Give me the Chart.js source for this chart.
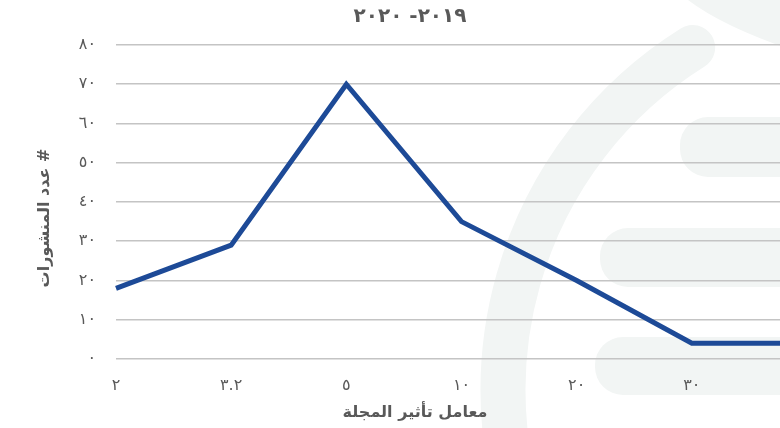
<!DOCTYPE html>
<html>
<head>
<meta charset="utf-8">
<script src="https://cdn.jsdelivr.net/npm/chart.js@4.4.1/dist/chart.umd.min.js"></script>
<style>
  html, body { margin: 0; padding: 0; background: #ffffff; overflow: hidden; width: 780px; height: 428px; }
  #wrap { position: relative; width: 820px; height: 428px; }
</style>
</head>
<body>
<div id="wrap"><canvas id="chart" width="820" height="428"></canvas></div>
<script>
// Journal impact-factor buckets (x categories)
const impactFactors = ['٢', '٣.٢', '٥', '١٠', '٢٠', '٣٠', '٤٠'];
// Number of publications per bucket
const publicationCounts = [18, 29, 70, 35, 20, 4, 4];
// Y axis tick labels, Arabic-Indic digits
const yTickLabels = ['٠', '١٠', '٢٠', '٣٠', '٤٠', '٥٠', '٦٠', '٧٠', '٨٠'];

const subtitleText = '٢٠١٩- ٢٠٢٠';
const xAxisTitle = 'معامل تأثير المجلة';
const yAxisTitle = 'عدد المنشورات #';

const FONT = '"DejaVu Sans", sans-serif';
const TEXT_GREY = '#595959';
const MARK_TINT = '#f2f5f4';

// Faint brand mark painted behind the plot
const backdrop = {
  id: 'backdrop',
  beforeDraw(chart) {
    const ctx = chart.ctx;
    ctx.save();
    ctx.fillStyle = MARK_TINT;
    ctx.strokeStyle = MARK_TINT;
    // corner shape
    ctx.beginPath();
    ctx.moveTo(688, 0);
    ctx.quadraticCurveTo(722, 26, 792, 50);
    ctx.lineTo(820, 52);
    ctx.lineTo(820, 0);
    ctx.closePath();
    ctx.fill();
    // big arc
    ctx.lineWidth = 45;
    ctx.lineCap = 'round';
    ctx.beginPath();
    ctx.arc(907, 390, 404, -2.13, -3.6, true);
    ctx.stroke();
    // rounded bars
    const bars = [[680, 117, 160, 60], [600, 228, 240, 59], [595, 337, 245, 58]];
    for (const [x, y, w, h] of bars) {
      ctx.beginPath();
      ctx.roundRect(x, y, w, h, 28);
      ctx.fill();
    }
    ctx.restore();
  }
};

// Subtitle and axis titles
const titles = {
  id: 'titles',
  afterDraw(chart) {
    const ctx = chart.ctx;
    ctx.save();
    ctx.fillStyle = TEXT_GREY;
    ctx.textAlign = 'center';
    ctx.textBaseline = 'middle';
    ctx.font = 'bold 20px ' + FONT;
    ctx.fillText(subtitleText, 410, 17);
    ctx.font = 'bold 16px ' + FONT;
    ctx.fillText(xAxisTitle, 415, 413);
    ctx.translate(45, 218);
    ctx.rotate(-Math.PI / 2);
    ctx.fillText(yAxisTitle, 0, 0);
    ctx.restore();
  }
};

new Chart(document.getElementById('chart'), {
  type: 'line',
  data: {
    labels: impactFactors,
    datasets: [{
      data: publicationCounts,
      borderColor: '#1d4a97',
      borderWidth: 5,
      borderJoinStyle: 'miter',
      pointRadius: 0,
      tension: 0,
      fill: false
    }]
  },
  options: {
    responsive: false,
    devicePixelRatio: 1,
    animation: false,
    layout: { padding: { top: 45, right: 13, left: 0, bottom: 0 } },
    plugins: { legend: { display: false }, tooltip: { enabled: false }, title: { display: false } },
    scales: {
      x: {
        offset: false,
        grid: { display: false, drawTicks: false },
        border: { display: false },
        ticks: {
          autoSkip: false, maxRotation: 0, padding: 17,
          color: TEXT_GREY, font: { family: FONT, size: 16 }
        },
        afterFit(scale) {
          scale.height = 69;
          scale.paddingLeft = 0;
          scale.paddingRight = 0;
        }
      },
      y: {
        min: 0, max: 80,
        grid: { color: '#c4c4c4', lineWidth: 1.6, drawTicks: false },
        border: { display: false },
        ticks: {
          stepSize: 10, padding: 20,
          color: TEXT_GREY, font: { family: FONT, size: 16 },
          callback: (v) => yTickLabels[Math.round(v / 10)]
        },
        afterFit(scale) { scale.width = 116; }
      }
    }
  },
  plugins: [backdrop, titles]
});
</script>
</body>
</html>
